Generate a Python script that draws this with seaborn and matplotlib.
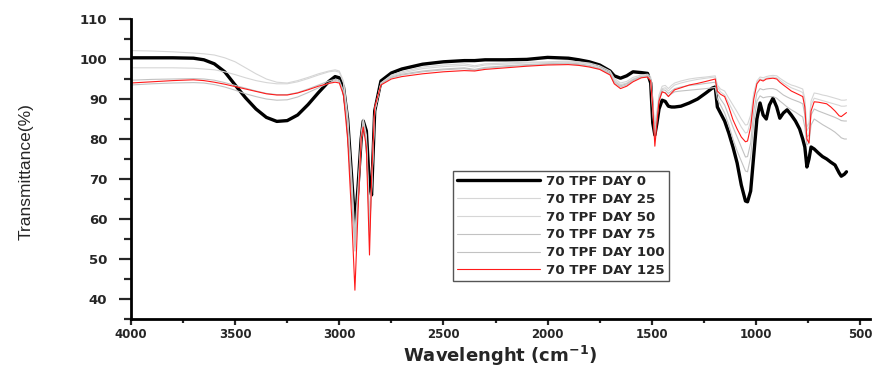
import matplotlib
matplotlib.use("Agg")
import matplotlib.pyplot as plt
from matplotlib.ticker import MultipleLocator
import numpy as np
import pandas as pd
import seaborn as sns

# Shared wavenumber grid (cm^-1)
wavenumber = [
    4000, 3900, 3800, 3700, 3650, 3600, 3550, 3500, 3450, 3400,
    3350, 3300, 3250, 3200, 3150, 3100, 3050, 3020, 3000, 2980,
    2960, 2940, 2925, 2910, 2895, 2885, 2870, 2855, 2845, 2830,
    2800, 2750, 2700, 2600, 2500, 2400, 2350, 2300, 2200, 2100,
    2000, 1900, 1850, 1800, 1750, 1700, 1680, 1650, 1620, 1590,
    1550, 1520, 1505, 1495, 1485, 1475, 1465, 1450, 1435, 1420,
    1405, 1390, 1360, 1320, 1280, 1240, 1210, 1195, 1185, 1170,
    1150, 1130, 1110, 1090, 1070, 1050, 1040, 1025, 1010, 995,
    980, 965, 950, 935, 918, 900, 885, 868, 850, 830,
    810, 790, 775, 765, 755, 745, 735, 720, 700, 680,
    660, 640, 620, 600, 590, 575, 565,
]

# Transmittance (%) for each sampling day
day0 = [
    100.3, 100.3, 100.3, 100.2, 99.8, 98.8, 96.8, 93.5, 90.3, 87.5,
    85.4, 84.4, 84.6, 86.0, 88.6, 91.6, 94.4, 95.6, 95.3, 93.0,
    85.0, 70.0, 58.0, 68.0, 80.0, 84.5, 82.0, 68.0, 66.0, 87.0,
    94.5, 96.5, 97.5, 98.7, 99.3, 99.6, 99.6, 99.8, 99.8, 99.9,
    100.4, 100.2, 99.8, 99.3, 98.5, 97.0, 95.8, 95.2, 95.8, 96.8,
    96.6, 96.4, 94.0, 84.0, 81.0, 84.0, 87.5, 89.7, 89.4, 88.2,
    88.0, 88.0, 88.2, 89.0, 90.0, 91.5, 92.7, 93.0, 88.0, 86.5,
    84.5, 81.5, 78.0, 74.0, 68.5, 64.5, 64.3, 67.0, 76.0, 85.0,
    89.0, 86.0, 85.0, 88.5, 90.2, 88.0, 85.2, 86.5, 87.3, 86.0,
    84.5, 82.5, 80.0, 78.0, 73.0, 75.0, 78.0, 77.5, 76.5, 75.6,
    75.0, 74.2, 73.5, 71.5, 70.7, 71.2, 71.8,
]
day25 = [
    102.1, 102.0, 101.8, 101.5, 101.3, 101.0, 100.3, 99.3, 97.8, 96.3,
    95.0, 94.2, 94.0, 94.6, 95.4, 96.3, 97.0, 97.3, 97.0, 94.5,
    86.0, 70.0, 56.0, 68.0, 81.0, 85.0, 81.0, 62.0, 68.0, 87.0,
    94.0, 96.0, 96.8, 98.0, 98.5, 98.8, 98.3, 98.8, 99.0, 99.2,
    99.3, 99.5, 99.3, 99.0, 98.3, 97.0, 95.2, 94.0, 94.4, 95.4,
    96.0, 96.2, 95.5, 89.0, 84.0, 87.0, 91.0, 93.2, 93.4, 92.6,
    93.4, 94.0, 94.5, 95.0, 95.3, 95.5, 95.7, 95.8, 93.5, 92.5,
    92.0, 90.2, 88.5, 86.8, 85.0, 83.5, 83.6, 86.0, 91.5, 94.5,
    95.5, 95.3, 95.6, 95.8, 95.9, 95.8, 95.2, 94.6, 94.0, 93.5,
    93.2, 92.8, 92.5, 90.0, 83.0, 84.0, 89.5, 91.5, 91.3, 91.0,
    90.8, 90.5, 90.2, 89.9, 89.7, 89.7, 89.8,
]
day50 = [
    97.8, 97.8, 97.8, 97.7, 97.5, 97.3, 96.8, 96.1, 95.3, 94.6,
    94.1, 93.8, 93.8, 94.3, 95.1, 96.0, 96.8, 97.0, 96.7, 94.0,
    85.0, 68.0, 53.0, 66.0, 80.0, 84.5, 80.0, 58.0, 67.0, 87.0,
    94.0, 95.8, 96.5, 97.6, 98.1, 98.4, 98.0, 98.5, 98.7, 99.0,
    99.1, 99.3, 99.1, 98.8, 98.0, 96.7, 94.8, 93.6, 94.0, 95.0,
    95.7, 95.9, 95.0, 88.0, 82.5, 86.0, 90.3, 92.6, 92.8, 92.0,
    92.8, 93.5, 94.0, 94.5, 94.9, 95.2, 95.4, 95.5, 93.0, 91.8,
    91.0, 89.0, 87.0, 85.0, 83.0, 81.5, 81.7, 84.5, 91.0, 94.2,
    95.0, 94.8, 95.2, 95.4, 95.5, 95.3, 94.7, 94.0, 93.4, 92.8,
    92.4, 92.0, 91.6, 89.0, 82.0, 83.0, 88.5, 90.2, 89.9, 89.6,
    89.3, 89.0, 88.7, 88.4, 88.2, 88.2, 88.3,
]
day75 = [
    94.7, 94.9, 95.0, 95.1, 95.0, 94.7, 94.1, 93.4, 92.7, 92.0,
    91.4, 91.1, 91.1, 91.6, 92.5, 93.5, 94.5, 94.9, 94.7, 92.0,
    83.0, 66.0, 55.0, 65.0, 80.0, 84.0, 79.0, 57.0, 68.0, 87.5,
    93.8, 95.5, 96.2, 97.0, 97.5, 97.8, 97.4, 97.9, 98.3, 98.6,
    98.8, 99.0, 98.8, 98.4, 97.7, 96.4, 94.4, 93.3, 93.8, 94.8,
    95.6, 95.8, 94.8, 87.0, 81.5, 85.5, 90.0, 92.3, 92.2, 91.4,
    92.0, 92.6, 93.0, 93.4, 93.6, 93.9, 94.1, 94.2, 91.5, 90.0,
    88.5, 85.8, 83.0, 80.5, 78.0, 75.5, 75.6, 79.0, 87.0, 91.5,
    92.6, 92.3, 92.5, 92.6, 92.6, 92.3, 91.7, 91.0, 90.5, 90.0,
    89.6, 89.2, 88.8, 86.0, 80.5, 81.0, 86.0, 87.5, 87.0, 86.6,
    86.2, 85.8, 85.4, 84.9, 84.6, 84.5, 84.5,
]
day100 = [
    93.5, 93.8, 94.0, 94.1, 94.0, 93.6, 93.0, 92.2, 91.3, 90.6,
    90.0, 89.7, 89.8, 90.5, 91.6, 92.8, 94.0, 94.6, 94.4, 92.0,
    84.0, 67.0, 52.0, 64.0, 79.0, 84.0, 79.0, 56.0, 67.0, 87.0,
    93.7, 95.3, 96.0, 96.8, 97.3, 97.6, 97.2, 97.7, 98.1, 98.4,
    98.7, 98.8, 98.6, 98.2, 97.5, 96.2, 94.0, 93.0, 93.5, 94.6,
    95.4, 95.6, 94.6, 86.5, 80.5, 85.0, 89.5, 91.8, 91.6, 90.8,
    91.3, 91.8, 92.0, 92.2, 92.4, 92.6, 92.8, 92.9, 90.0, 88.5,
    86.5, 83.5, 80.0, 77.0, 74.5, 72.0, 71.8, 75.5, 84.0, 89.5,
    90.8, 90.3, 90.5, 90.6, 90.6, 90.2, 89.5, 88.8, 88.0, 87.3,
    86.7, 86.0, 85.5, 83.0, 78.5, 79.0, 83.5, 85.0, 84.3, 83.6,
    83.0, 82.4, 81.7, 80.8, 80.3, 80.0, 80.0,
]
day125 = [
    94.0, 94.3, 94.6, 94.8, 94.6, 94.2, 93.7, 93.1, 92.5, 91.9,
    91.3, 91.0, 91.0, 91.5, 92.3, 93.2, 93.9, 94.2, 94.0, 91.0,
    80.0, 60.0, 42.2, 62.0, 80.0, 83.0, 78.0, 51.0, 70.0, 88.0,
    93.5, 95.0, 95.6, 96.3, 96.8, 97.1, 97.0, 97.4, 97.8, 98.2,
    98.5, 98.6, 98.4, 98.0, 97.4, 96.0, 93.8, 92.6, 93.2, 94.3,
    95.3, 95.5, 94.5, 88.0, 78.2, 84.0, 89.5, 91.8, 91.5, 90.6,
    91.5, 92.3, 92.8, 93.5, 93.9, 94.4, 94.8, 95.0, 92.0, 91.2,
    90.6, 88.0, 84.8, 82.5, 80.5, 79.3, 79.5, 83.0, 90.0, 93.8,
    94.8, 94.5, 95.0, 95.1, 95.2, 95.0, 94.2, 93.5, 92.8, 92.0,
    91.5, 91.0, 90.6, 88.0, 80.0, 79.0, 87.0, 89.3, 89.2, 89.0,
    88.8, 88.0, 87.0, 85.8, 85.6, 86.2, 86.6,
]

series_labels = ["70 TPF DAY 0", "70 TPF DAY 25", "70 TPF DAY 50",
                 "70 TPF DAY 75", "70 TPF DAY 100", "70 TPF DAY 125"]
series_values = [day0, day25, day50, day75, day100, day125]
line_colors = ["#000000", "#d6d6d6", "#d6d6d6", "#c2c2c2", "#c2c2c2", "#ff1a1a"]
line_widths = [2.4, 0.8, 0.8, 0.8, 0.8, 0.8]

frames = []
for label, vals in zip(series_labels, series_values):
    frames.append(pd.DataFrame({"wavenumber": wavenumber, "T": vals, "sample": label}))
df = pd.concat(frames, ignore_index=True)

sns.set_style("white")
plt.rcParams["font.family"] = ["DejaVu Sans"]

fig = plt.figure(figsize=(8.73, 3.67), dpi=100)
# axes box: left spine at x=131 px, bottom spine at y=319 px (from top)
ax = fig.add_axes([131 / 873, 48 / 367, 739 / 873, 300 / 367])

for label, color, lw in zip(series_labels, line_colors, line_widths):
    sub = df[df["sample"] == label]
    sns.lineplot(data=sub, x="wavenumber", y="T", color=color, linewidth=lw,
                 label=label, sort=False, estimator=None, ax=ax)

ax.set_xlim(4000, 4000 - 739 / 0.20829)
ax.set_ylim(35, 110)

ax.xaxis.set_major_locator(MultipleLocator(500))
ax.xaxis.set_minor_locator(MultipleLocator(250))
ax.yaxis.set_major_locator(MultipleLocator(10))
ax.yaxis.set_minor_locator(MultipleLocator(5))

for side in ["top", "right"]:
    ax.spines[side].set_visible(False)
for side in ["left", "bottom"]:
    ax.spines[side].set_linewidth(2.0)
    ax.spines[side].set_color("black")

ax.tick_params(axis="x", which="major", direction="out", length=4.5, width=1.6,
               pad=2, labelsize=8.5, bottom=True)
ax.tick_params(axis="x", which="minor", direction="out", length=3, width=1.6, bottom=True)
ax.tick_params(axis="y", which="major", direction="out", length=9, width=1.6,
               pad=8, labelsize=9.5, left=True)
ax.tick_params(axis="y", which="minor", direction="out", length=5, width=1.6, left=True)
for t in ax.get_xticklabels() + ax.get_yticklabels():
    t.set_fontweight("bold")

ax.set_xlabel("Wavelenght (cm$^{\\mathbf{-1}}$)", fontsize=13, fontweight="bold",
              va="baseline")
ax.xaxis.set_label_coords(0.5, (319 - 362) / 300)
ax.set_ylabel("Transmittance(%)", fontsize=12.5, family=["Liberation Sans", "DejaVu Sans"])
ax.yaxis.set_label_coords((34 - 131) / 739, 0.49)

leg = ax.legend(loc="upper left", bbox_to_anchor=(0.4357, 0.4933), borderaxespad=0,
                frameon=True, fancybox=False, edgecolor="#555555", framealpha=1,
                prop={"weight": "bold", "size": 9.6}, handlelength=6.2,
                labelspacing=0.36, borderpad=0.3, handletextpad=0.5)
leg.get_frame().set_linewidth(1.0)

fig.savefig("out.png", dpi=100)
